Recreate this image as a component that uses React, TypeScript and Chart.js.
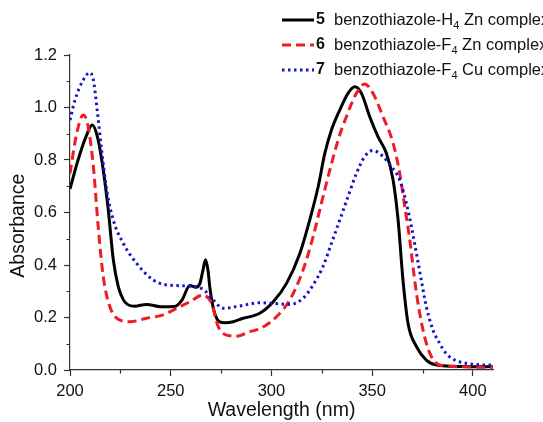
import React, { useEffect, useRef } from "react";
import { Chart, registerables } from "chart.js";

Chart.register(...registerables);

// Series 5: benzothiazole-H4 Zn complex (black solid)
const wl5 = [200, 204, 208, 211, 214, 216.5, 219, 221.5, 224, 226.5, 228.5, 232, 238, 245, 252, 255.5, 259.5, 262.5, 264.5, 266, 267.3, 268.5, 269.5, 271.5, 274, 277, 281, 286, 294.2, 300.9, 307.5, 314.1, 319, 323.2, 326.5, 329.8, 333.9, 338, 341.4, 344.7, 348.8, 352.9, 357.1, 360.4, 362.9, 365.3, 367.8, 372, 376.9, 381.9, 395, 410];
const abs5 = [0.69, 0.8, 0.89, 0.933, 0.876, 0.762, 0.61, 0.42, 0.317, 0.267, 0.25, 0.243, 0.25, 0.241, 0.242, 0.265, 0.322, 0.315, 0.33, 0.38, 0.42, 0.38, 0.31, 0.225, 0.185, 0.18, 0.184, 0.197, 0.216, 0.26, 0.33, 0.444, 0.571, 0.698, 0.825, 0.914, 0.99, 1.054, 1.079, 1.054, 0.965, 0.889, 0.825, 0.724, 0.571, 0.343, 0.178, 0.089, 0.038, 0.019, 0.013, 0.012];

// Series 6: benzothiazole-F4 Zn complex (red dashed)
const wl6 = [200, 203.3, 206.6, 209, 211.6, 214, 216.5, 219.8, 224.8, 229.8, 238, 246.3, 252.9, 259.5, 266, 268.5, 270.3, 273.6, 277.7, 282.7, 289.3, 295, 302.5, 309.1, 315.7, 320.7, 324.8, 329, 333.1, 337.2, 342.2, 346.3, 350.4, 355.4, 360.4, 363.7, 366.2, 368.7, 371.1, 373.6, 376.9, 379.5, 383.5, 395, 410];
const abs6 = [0.749, 0.9, 0.971, 0.927, 0.775, 0.546, 0.356, 0.241, 0.19, 0.184, 0.197, 0.21, 0.235, 0.26, 0.286, 0.275, 0.254, 0.165, 0.133, 0.129, 0.146, 0.16, 0.203, 0.267, 0.381, 0.508, 0.635, 0.762, 0.876, 0.965, 1.054, 1.09, 1.054, 0.965, 0.864, 0.749, 0.622, 0.495, 0.343, 0.216, 0.102, 0.05, 0.019, 0.012, 0.01];

// Series 7: benzothiazole-F4 Cu complex (blue dotted)
const wl7 = [200, 202.5, 206.6, 209.9, 211.6, 213.5, 215.7, 218.2, 221.5, 226.4, 233.1, 241.3, 248, 257.9, 266.1, 271.1, 276, 284.3, 294.2, 300.8, 309.1, 315.7, 320.7, 325.6, 329.8, 333.9, 338, 342.2, 346.3, 350.4, 354.6, 359.6, 363.7, 367, 369.5, 372, 374.4, 376.9, 380.2, 383.5, 387, 392, 400, 410];
const abs7 = [0.952, 1.029, 1.105, 1.133, 1.105, 0.99, 0.838, 0.686, 0.571, 0.483, 0.406, 0.343, 0.324, 0.32, 0.307, 0.267, 0.235, 0.244, 0.256, 0.254, 0.25, 0.273, 0.324, 0.394, 0.483, 0.571, 0.66, 0.749, 0.813, 0.836, 0.819, 0.775, 0.724, 0.635, 0.546, 0.444, 0.343, 0.241, 0.152, 0.102, 0.06, 0.035, 0.022, 0.018];

const xTicks = [200, 250, 300, 350, 400];
const yTicks = [0, 0.2, 0.4, 0.6, 0.8, 1.0, 1.2];

const legendNumbers = ["5", "6", "7"];
const legendLetters = ["H", "F", "F"];
const legendMetals = ["Zn", "Zn", "Cu"];

const xTitle = "Wavelength (nm)";
const yTitle = "Absorbance";

const FONT = '"Liberation Sans", Arial, sans-serif';
const BLACK = "#000000";
const RED = "#ee1c24";
const BLUE = "#1414cc";
const AXIS = "#333333";

const toPts = (xs: number[], ys: number[]) => xs.map((x, i) => ({ x, y: ys[i] }));

const extrasPlugin = {
  id: "extras",
  afterDraw(chart: any) {
    const ctx = chart.ctx;
    const xs = chart.scales.x;
    const ys = chart.scales.y;
    const area = chart.chartArea;
    ctx.save();
    // minor ticks
    ctx.strokeStyle = AXIS;
    ctx.lineWidth = 1.2;
    ctx.beginPath();
    for (let i = 0; i < xTicks.length; i++) {
      const v = xTicks[i] + 25;
      if (v > 410) continue;
      const px = Math.round(xs.getPixelForValue(v)) + 0.5;
      ctx.moveTo(px, area.bottom);
      ctx.lineTo(px, area.bottom + 3.5);
    }
    for (let i = 0; i < yTicks.length - 1; i++) {
      const v = yTicks[i] + 0.1;
      const py = Math.round(ys.getPixelForValue(v)) + 0.5;
      ctx.moveTo(area.left - 3.5, py);
      ctx.lineTo(area.left, py);
    }
    ctx.stroke();

    // axis titles
    ctx.fillStyle = "#111";
    ctx.font = `19.5px ${FONT}`;
    ctx.textAlign = "center";
    ctx.textBaseline = "alphabetic";
    ctx.fillText(xTitle, (area.left + area.right) / 2, 416);
    ctx.save();
    ctx.translate(23.5, ys.getPixelForValue(0.55));
    ctx.rotate(-Math.PI / 2);
    ctx.fillText(yTitle, 0, 0);
    ctx.restore();

    // legend
    const styles = [
      { color: BLACK, dash: [] as number[], width: 3 },
      { color: RED, dash: [9, 5], width: 3 },
      { color: BLUE, dash: [2.5, 3.5], width: 3 },
    ];
    const rowY = [20, 45, 70];
    for (let i = 0; i < 3; i++) {
      const y = rowY[i];
      ctx.strokeStyle = styles[i].color;
      ctx.lineWidth = styles[i].width;
      ctx.setLineDash(styles[i].dash);
      ctx.beginPath();
      ctx.moveTo(282, y);
      ctx.lineTo(314, y);
      ctx.stroke();
      ctx.setLineDash([]);
      ctx.fillStyle = "#111";
      ctx.textBaseline = "middle";
      ctx.textAlign = "left";
      ctx.font = `bold 16px ${FONT}`;
      ctx.fillText(legendNumbers[i], 316, y);
      ctx.font = `16.5px ${FONT}`;
      let x = 334;
      const t1 = "benzothiazole-" + legendLetters[i];
      ctx.fillText(t1, x, y);
      x += ctx.measureText(t1).width;
      ctx.font = `11px ${FONT}`;
      ctx.fillText("4", x, y + 6);
      x += ctx.measureText("4").width;
      ctx.font = `16.5px ${FONT}`;
      ctx.fillText(" " + legendMetals[i] + " complex", x, y);
    }
    ctx.restore();
  },
};

export default function App() {
  const ref = useRef<HTMLCanvasElement | null>(null);
  useEffect(() => {
    if (!ref.current) return;
    const chart = new Chart(ref.current, {
      type: "line",
      data: {
        datasets: [
          {
            label: "5 benzothiazole-H4 Zn complex",
            data: toPts(wl5, abs5),
            borderColor: BLACK,
            borderWidth: 3,
            pointRadius: 0,
            cubicInterpolationMode: "monotone",
            order: 3,
          },
          {
            label: "6 benzothiazole-F4 Zn complex",
            data: toPts(wl6, abs6),
            borderColor: RED,
            borderWidth: 3,
            borderDash: [9, 5],
            pointRadius: 0,
            cubicInterpolationMode: "monotone",
            order: 2,
          },
          {
            label: "7 benzothiazole-F4 Cu complex",
            data: toPts(wl7, abs7),
            borderColor: BLUE,
            borderWidth: 3,
            borderDash: [2.5, 3.5],
            pointRadius: 0,
            cubicInterpolationMode: "monotone",
            order: 1,
          },
        ],
      },
      options: {
        responsive: false,
        animation: false,
        events: [],
        layout: { padding: { left: 0, top: 55, right: 50, bottom: 0 } },
        plugins: { legend: { display: false }, tooltip: { enabled: false } },
        scales: {
          x: {
            type: "linear",
            min: 200,
            max: 410,
            afterFit: (s: any) => {
              s.height = 52;
            },
            afterBuildTicks: (s: any) => {
              s.ticks = xTicks.map((v) => ({ value: v }));
            },
            ticks: {
              color: "#111",
              font: { family: FONT, size: 16.5 },
              padding: 6,
              maxRotation: 0,
              autoSkip: false,
            },
            grid: {
              drawOnChartArea: false,
              drawTicks: true,
              tickLength: 6,
              tickColor: AXIS,
              tickWidth: 1.2,
            },
            border: { display: true, color: AXIS, width: 1.2 },
            title: { display: false },
          },
          y: {
            type: "linear",
            min: 0,
            max: 1.2,
            afterFit: (s: any) => {
              s.width = 70;
            },
            afterBuildTicks: (s: any) => {
              s.ticks = yTicks.map((v) => ({ value: v }));
            },
            ticks: {
              color: "#111",
              font: { family: FONT, size: 16.5 },
              padding: 7,
              autoSkip: false,
              callback: (v: any) => Number(v).toFixed(1),
            },
            grid: {
              drawOnChartArea: false,
              drawTicks: true,
              tickLength: 6,
              tickColor: AXIS,
              tickWidth: 1.2,
            },
            border: { display: true, color: AXIS, width: 1.2 },
            title: { display: false },
          },
        },
      },
      plugins: [extrasPlugin],
    });
    return () => chart.destroy();
  }, []);
  return (
    <div style={{ position: "fixed", left: 0, top: 0, width: 543, height: 422, background: "#fff" }}>
      <canvas ref={ref} width={543} height={422} />
    </div>
  );
}
